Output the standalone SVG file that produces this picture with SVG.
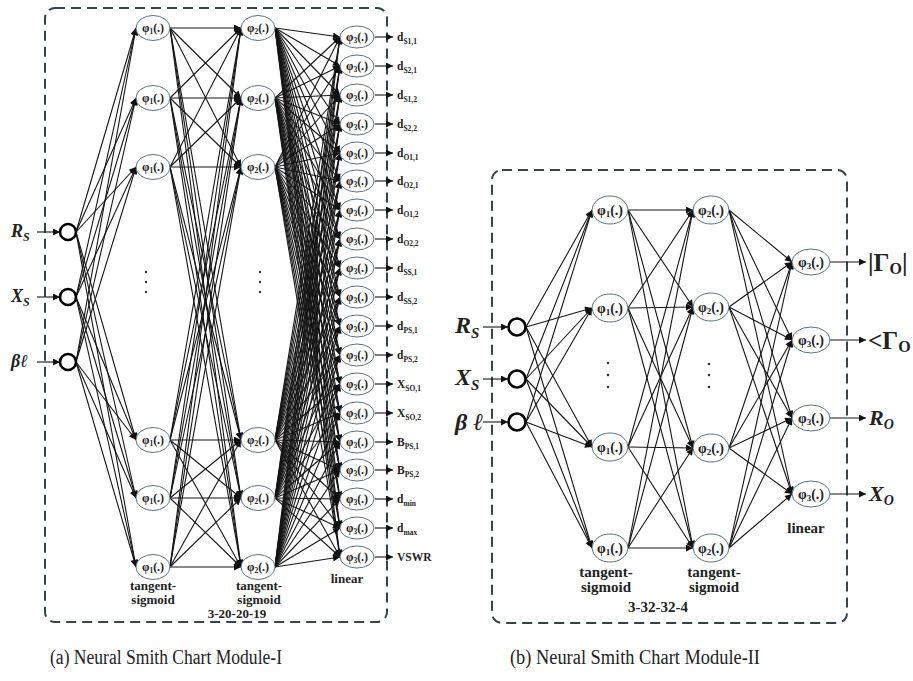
<svg xmlns="http://www.w3.org/2000/svg" width="913" height="681" viewBox="0 0 913 681">
<defs>
<marker id="ah" viewBox="0 0 10 10" refX="10" refY="5" markerWidth="9" markerHeight="7" markerUnits="userSpaceOnUse" orient="auto"><path d="M0,0 L10,5 L0,10 z" fill="#111"/></marker>
<style>
.frame{fill:none;stroke:#34444c;stroke-width:2;stroke-dasharray:10 6}
.conn line{stroke:#151515;stroke-width:1.1;marker-end:url(#ah)}
.nd ellipse{fill:#fff;stroke:#5a7482;stroke-width:1}
.inp{fill:#fff;stroke:#000;stroke-width:2.6}
.t{font-family:'Liberation Serif','Times New Roman',Times,serif;font-weight:bold;fill:#222}
.ph{font-size:12px;text-anchor:middle}
.ph2{font-size:14px;text-anchor:middle}
.sb{font-size:7.5px}
.sb2{font-size:9px}
.ol{font-size:11.5px}
.os{font-size:7.5px}
.lab{font-size:13px;text-anchor:middle}
.lab2{font-size:15px;text-anchor:middle}
.in{font-family:'Liberation Serif','Times New Roman',Times,serif;font-weight:bold;font-style:italic;fill:#222}
.cap{font-family:'Liberation Serif','Times New Roman',Times,serif;font-size:20px;fill:#222}
.dot{fill:#333}
</style>
</defs>
<rect fill="#fff" x="0" y="0" width="913" height="681"/>

<!-- ===== Panel (a) ===== -->
<rect class="frame" x="45" y="8" width="342" height="614" rx="10"/>

<g id="a-connectors" class="conn">
<!-- inputs to phi1 -->
<line x1="76" y1="232" x2="136" y2="28"/><line x1="76" y1="232" x2="136" y2="98"/><line x1="76" y1="232" x2="136" y2="167"/><line x1="76" y1="232" x2="136" y2="440"/><line x1="76" y1="232" x2="136" y2="498"/><line x1="76" y1="232" x2="136" y2="567"/>
<line x1="76" y1="297" x2="136" y2="28"/><line x1="76" y1="297" x2="136" y2="98"/><line x1="76" y1="297" x2="136" y2="167"/><line x1="76" y1="297" x2="136" y2="440"/><line x1="76" y1="297" x2="136" y2="498"/><line x1="76" y1="297" x2="136" y2="567"/>
<line x1="76" y1="362" x2="136" y2="28"/><line x1="76" y1="362" x2="136" y2="98"/><line x1="76" y1="362" x2="136" y2="167"/><line x1="76" y1="362" x2="136" y2="440"/><line x1="76" y1="362" x2="136" y2="498"/><line x1="76" y1="362" x2="136" y2="567"/>
<!-- phi1 to phi2 -->
<line x1="170" y1="28" x2="241" y2="28"/><line x1="170" y1="28" x2="241" y2="98"/><line x1="170" y1="28" x2="241" y2="167"/><line x1="170" y1="28" x2="241" y2="440"/><line x1="170" y1="28" x2="241" y2="498"/><line x1="170" y1="28" x2="241" y2="567"/>
<line x1="170" y1="98" x2="241" y2="28"/><line x1="170" y1="98" x2="241" y2="98"/><line x1="170" y1="98" x2="241" y2="167"/><line x1="170" y1="98" x2="241" y2="440"/><line x1="170" y1="98" x2="241" y2="498"/><line x1="170" y1="98" x2="241" y2="567"/>
<line x1="170" y1="167" x2="241" y2="28"/><line x1="170" y1="167" x2="241" y2="98"/><line x1="170" y1="167" x2="241" y2="167"/><line x1="170" y1="167" x2="241" y2="440"/><line x1="170" y1="167" x2="241" y2="498"/><line x1="170" y1="167" x2="241" y2="567"/>
<line x1="170" y1="440" x2="241" y2="28"/><line x1="170" y1="440" x2="241" y2="98"/><line x1="170" y1="440" x2="241" y2="167"/><line x1="170" y1="440" x2="241" y2="440"/><line x1="170" y1="440" x2="241" y2="498"/><line x1="170" y1="440" x2="241" y2="567"/>
<line x1="170" y1="498" x2="241" y2="28"/><line x1="170" y1="498" x2="241" y2="98"/><line x1="170" y1="498" x2="241" y2="167"/><line x1="170" y1="498" x2="241" y2="440"/><line x1="170" y1="498" x2="241" y2="498"/><line x1="170" y1="498" x2="241" y2="567"/>
<line x1="170" y1="567" x2="241" y2="28"/><line x1="170" y1="567" x2="241" y2="98"/><line x1="170" y1="567" x2="241" y2="167"/><line x1="170" y1="567" x2="241" y2="440"/><line x1="170" y1="567" x2="241" y2="498"/><line x1="170" y1="567" x2="241" y2="567"/>
<!-- phi2 to phi3 -->
<line x1="275" y1="28" x2="340" y2="37"/><line x1="275" y1="28" x2="340" y2="66"/><line x1="275" y1="28" x2="340" y2="95"/><line x1="275" y1="28" x2="340" y2="124"/><line x1="275" y1="28" x2="340" y2="153"/><line x1="275" y1="28" x2="340" y2="181"/><line x1="275" y1="28" x2="340" y2="210"/><line x1="275" y1="28" x2="340" y2="239"/><line x1="275" y1="28" x2="340" y2="268"/><line x1="275" y1="28" x2="340" y2="297"/><line x1="275" y1="28" x2="340" y2="326"/><line x1="275" y1="28" x2="340" y2="355"/><line x1="275" y1="28" x2="340" y2="384"/><line x1="275" y1="28" x2="340" y2="413"/><line x1="275" y1="28" x2="340" y2="442"/><line x1="275" y1="28" x2="340" y2="470"/><line x1="275" y1="28" x2="340" y2="499"/><line x1="275" y1="28" x2="340" y2="528"/><line x1="275" y1="28" x2="340" y2="557"/>
<line x1="275" y1="98" x2="340" y2="37"/><line x1="275" y1="98" x2="340" y2="66"/><line x1="275" y1="98" x2="340" y2="95"/><line x1="275" y1="98" x2="340" y2="124"/><line x1="275" y1="98" x2="340" y2="153"/><line x1="275" y1="98" x2="340" y2="181"/><line x1="275" y1="98" x2="340" y2="210"/><line x1="275" y1="98" x2="340" y2="239"/><line x1="275" y1="98" x2="340" y2="268"/><line x1="275" y1="98" x2="340" y2="297"/><line x1="275" y1="98" x2="340" y2="326"/><line x1="275" y1="98" x2="340" y2="355"/><line x1="275" y1="98" x2="340" y2="384"/><line x1="275" y1="98" x2="340" y2="413"/><line x1="275" y1="98" x2="340" y2="442"/><line x1="275" y1="98" x2="340" y2="470"/><line x1="275" y1="98" x2="340" y2="499"/><line x1="275" y1="98" x2="340" y2="528"/><line x1="275" y1="98" x2="340" y2="557"/>
<line x1="275" y1="167" x2="340" y2="37"/><line x1="275" y1="167" x2="340" y2="66"/><line x1="275" y1="167" x2="340" y2="95"/><line x1="275" y1="167" x2="340" y2="124"/><line x1="275" y1="167" x2="340" y2="153"/><line x1="275" y1="167" x2="340" y2="181"/><line x1="275" y1="167" x2="340" y2="210"/><line x1="275" y1="167" x2="340" y2="239"/><line x1="275" y1="167" x2="340" y2="268"/><line x1="275" y1="167" x2="340" y2="297"/><line x1="275" y1="167" x2="340" y2="326"/><line x1="275" y1="167" x2="340" y2="355"/><line x1="275" y1="167" x2="340" y2="384"/><line x1="275" y1="167" x2="340" y2="413"/><line x1="275" y1="167" x2="340" y2="442"/><line x1="275" y1="167" x2="340" y2="470"/><line x1="275" y1="167" x2="340" y2="499"/><line x1="275" y1="167" x2="340" y2="528"/><line x1="275" y1="167" x2="340" y2="557"/>
<line x1="275" y1="440" x2="340" y2="37"/><line x1="275" y1="440" x2="340" y2="66"/><line x1="275" y1="440" x2="340" y2="95"/><line x1="275" y1="440" x2="340" y2="124"/><line x1="275" y1="440" x2="340" y2="153"/><line x1="275" y1="440" x2="340" y2="181"/><line x1="275" y1="440" x2="340" y2="210"/><line x1="275" y1="440" x2="340" y2="239"/><line x1="275" y1="440" x2="340" y2="268"/><line x1="275" y1="440" x2="340" y2="297"/><line x1="275" y1="440" x2="340" y2="326"/><line x1="275" y1="440" x2="340" y2="355"/><line x1="275" y1="440" x2="340" y2="384"/><line x1="275" y1="440" x2="340" y2="413"/><line x1="275" y1="440" x2="340" y2="442"/><line x1="275" y1="440" x2="340" y2="470"/><line x1="275" y1="440" x2="340" y2="499"/><line x1="275" y1="440" x2="340" y2="528"/><line x1="275" y1="440" x2="340" y2="557"/>
<line x1="275" y1="498" x2="340" y2="37"/><line x1="275" y1="498" x2="340" y2="66"/><line x1="275" y1="498" x2="340" y2="95"/><line x1="275" y1="498" x2="340" y2="124"/><line x1="275" y1="498" x2="340" y2="153"/><line x1="275" y1="498" x2="340" y2="181"/><line x1="275" y1="498" x2="340" y2="210"/><line x1="275" y1="498" x2="340" y2="239"/><line x1="275" y1="498" x2="340" y2="268"/><line x1="275" y1="498" x2="340" y2="297"/><line x1="275" y1="498" x2="340" y2="326"/><line x1="275" y1="498" x2="340" y2="355"/><line x1="275" y1="498" x2="340" y2="384"/><line x1="275" y1="498" x2="340" y2="413"/><line x1="275" y1="498" x2="340" y2="442"/><line x1="275" y1="498" x2="340" y2="470"/><line x1="275" y1="498" x2="340" y2="499"/><line x1="275" y1="498" x2="340" y2="528"/><line x1="275" y1="498" x2="340" y2="557"/>
<line x1="275" y1="567" x2="340" y2="37"/><line x1="275" y1="567" x2="340" y2="66"/><line x1="275" y1="567" x2="340" y2="95"/><line x1="275" y1="567" x2="340" y2="124"/><line x1="275" y1="567" x2="340" y2="153"/><line x1="275" y1="567" x2="340" y2="181"/><line x1="275" y1="567" x2="340" y2="210"/><line x1="275" y1="567" x2="340" y2="239"/><line x1="275" y1="567" x2="340" y2="268"/><line x1="275" y1="567" x2="340" y2="297"/><line x1="275" y1="567" x2="340" y2="326"/><line x1="275" y1="567" x2="340" y2="355"/><line x1="275" y1="567" x2="340" y2="384"/><line x1="275" y1="567" x2="340" y2="413"/><line x1="275" y1="567" x2="340" y2="442"/><line x1="275" y1="567" x2="340" y2="470"/><line x1="275" y1="567" x2="340" y2="499"/><line x1="275" y1="567" x2="340" y2="528"/><line x1="275" y1="567" x2="340" y2="557"/>
<!-- input arrows -->
<line x1="37" y1="232" x2="60" y2="232"/><line x1="37" y1="297" x2="60" y2="297"/><line x1="37" y1="362" x2="60" y2="362"/>
<!-- output arrows -->
<line x1="375" y1="37" x2="393" y2="37"/><line x1="375" y1="66" x2="393" y2="66"/><line x1="375" y1="95" x2="393" y2="95"/><line x1="375" y1="124" x2="393" y2="124"/><line x1="375" y1="153" x2="393" y2="153"/><line x1="375" y1="181" x2="393" y2="181"/><line x1="375" y1="210" x2="393" y2="210"/><line x1="375" y1="239" x2="393" y2="239"/><line x1="375" y1="268" x2="393" y2="268"/><line x1="375" y1="297" x2="393" y2="297"/><line x1="375" y1="326" x2="393" y2="326"/><line x1="375" y1="355" x2="393" y2="355"/><line x1="375" y1="384" x2="393" y2="384"/><line x1="375" y1="413" x2="393" y2="413"/><line x1="375" y1="442" x2="393" y2="442"/><line x1="375" y1="470" x2="393" y2="470"/><line x1="375" y1="499" x2="393" y2="499"/><line x1="375" y1="528" x2="393" y2="528"/><line x1="375" y1="557" x2="393" y2="557"/>
</g>

<!-- inputs (a) -->
<g id="a-in-rs"><circle class="inp" cx="68" cy="232" r="8"/><text class="in" x="11" y="237" font-size="18">R<tspan font-size="12" dy="4">S</tspan></text></g>
<g id="a-in-xs"><circle class="inp" cx="68" cy="297" r="8"/><text class="in" x="11" y="302" font-size="18">X<tspan font-size="12" dy="4">S</tspan></text></g>
<g id="a-in-bl"><circle class="inp" cx="68" cy="362" r="8"/><text class="in" x="11" y="367" font-size="18">βℓ</text></g>

<!-- layer 1 (a) -->
<g id="a-h1-1" class="nd"><ellipse cx="153" cy="28" rx="17" ry="12.5"/><text class="t ph" x="153" y="32">φ<tspan class="sb" dy="2">1</tspan><tspan dy="-2">(.)</tspan></text></g>
<g id="a-h1-2" class="nd"><ellipse cx="153" cy="98" rx="17" ry="12.5"/><text class="t ph" x="153" y="102">φ<tspan class="sb" dy="2">1</tspan><tspan dy="-2">(.)</tspan></text></g>
<g id="a-h1-3" class="nd"><ellipse cx="153" cy="167" rx="17" ry="12.5"/><text class="t ph" x="153" y="171">φ<tspan class="sb" dy="2">1</tspan><tspan dy="-2">(.)</tspan></text></g>
<g id="a-h1-4" class="nd"><ellipse cx="153" cy="440" rx="17" ry="12.5"/><text class="t ph" x="153" y="444">φ<tspan class="sb" dy="2">1</tspan><tspan dy="-2">(.)</tspan></text></g>
<g id="a-h1-5" class="nd"><ellipse cx="153" cy="498" rx="17" ry="12.5"/><text class="t ph" x="153" y="502">φ<tspan class="sb" dy="2">1</tspan><tspan dy="-2">(.)</tspan></text></g>
<g id="a-h1-6" class="nd"><ellipse cx="153" cy="567" rx="17" ry="12.5"/><text class="t ph" x="153" y="571">φ<tspan class="sb" dy="2">1</tspan><tspan dy="-2">(.)</tspan></text></g>
<g id="a-dots1"><circle class="dot" cx="146" cy="272" r="1.2"/><circle class="dot" cx="146" cy="282" r="1.2"/><circle class="dot" cx="146" cy="292" r="1.2"/></g>

<!-- layer 2 (a) -->
<g id="a-h2-1" class="nd"><ellipse cx="258" cy="28" rx="17" ry="12.5"/><text class="t ph" x="258" y="32">φ<tspan class="sb" dy="2">2</tspan><tspan dy="-2">(.)</tspan></text></g>
<g id="a-h2-2" class="nd"><ellipse cx="258" cy="98" rx="17" ry="12.5"/><text class="t ph" x="258" y="102">φ<tspan class="sb" dy="2">2</tspan><tspan dy="-2">(.)</tspan></text></g>
<g id="a-h2-3" class="nd"><ellipse cx="258" cy="167" rx="17" ry="12.5"/><text class="t ph" x="258" y="171">φ<tspan class="sb" dy="2">2</tspan><tspan dy="-2">(.)</tspan></text></g>
<g id="a-h2-4" class="nd"><ellipse cx="258" cy="440" rx="17" ry="12.5"/><text class="t ph" x="258" y="444">φ<tspan class="sb" dy="2">2</tspan><tspan dy="-2">(.)</tspan></text></g>
<g id="a-h2-5" class="nd"><ellipse cx="258" cy="498" rx="17" ry="12.5"/><text class="t ph" x="258" y="502">φ<tspan class="sb" dy="2">2</tspan><tspan dy="-2">(.)</tspan></text></g>
<g id="a-h2-6" class="nd"><ellipse cx="258" cy="567" rx="17" ry="12.5"/><text class="t ph" x="258" y="571">φ<tspan class="sb" dy="2">2</tspan><tspan dy="-2">(.)</tspan></text></g>
<g id="a-dots2"><circle class="dot" cx="260" cy="272" r="1.2"/><circle class="dot" cx="260" cy="282" r="1.2"/><circle class="dot" cx="260" cy="292" r="1.2"/></g>

<!-- layer 3 (a) -->
<g id="a-o1" class="nd"><ellipse cx="357" cy="37" rx="17" ry="11"/><text class="t ph" x="357" y="41">φ<tspan class="sb" dy="2">3</tspan><tspan dy="-2">(.)</tspan></text><text class="t ol" x="397" y="41">d<tspan class="os" dy="3">S1,1</tspan></text></g>
<g id="a-o2" class="nd"><ellipse cx="357" cy="66" rx="17" ry="11"/><text class="t ph" x="357" y="70">φ<tspan class="sb" dy="2">3</tspan><tspan dy="-2">(.)</tspan></text><text class="t ol" x="397" y="70">d<tspan class="os" dy="3">S2,1</tspan></text></g>
<g id="a-o3" class="nd"><ellipse cx="357" cy="95" rx="17" ry="11"/><text class="t ph" x="357" y="99">φ<tspan class="sb" dy="2">3</tspan><tspan dy="-2">(.)</tspan></text><text class="t ol" x="397" y="99">d<tspan class="os" dy="3">S1,2</tspan></text></g>
<g id="a-o4" class="nd"><ellipse cx="357" cy="124" rx="17" ry="11"/><text class="t ph" x="357" y="128">φ<tspan class="sb" dy="2">3</tspan><tspan dy="-2">(.)</tspan></text><text class="t ol" x="397" y="128">d<tspan class="os" dy="3">S2,2</tspan></text></g>
<g id="a-o5" class="nd"><ellipse cx="357" cy="153" rx="17" ry="11"/><text class="t ph" x="357" y="157">φ<tspan class="sb" dy="2">3</tspan><tspan dy="-2">(.)</tspan></text><text class="t ol" x="397" y="157">d<tspan class="os" dy="3">O1,1</tspan></text></g>
<g id="a-o6" class="nd"><ellipse cx="357" cy="181" rx="17" ry="11"/><text class="t ph" x="357" y="185">φ<tspan class="sb" dy="2">3</tspan><tspan dy="-2">(.)</tspan></text><text class="t ol" x="397" y="185">d<tspan class="os" dy="3">O2,1</tspan></text></g>
<g id="a-o7" class="nd"><ellipse cx="357" cy="210" rx="17" ry="11"/><text class="t ph" x="357" y="214">φ<tspan class="sb" dy="2">3</tspan><tspan dy="-2">(.)</tspan></text><text class="t ol" x="397" y="214">d<tspan class="os" dy="3">O1,2</tspan></text></g>
<g id="a-o8" class="nd"><ellipse cx="357" cy="239" rx="17" ry="11"/><text class="t ph" x="357" y="243">φ<tspan class="sb" dy="2">3</tspan><tspan dy="-2">(.)</tspan></text><text class="t ol" x="397" y="243">d<tspan class="os" dy="3">O2,2</tspan></text></g>
<g id="a-o9" class="nd"><ellipse cx="357" cy="268" rx="17" ry="11"/><text class="t ph" x="357" y="272">φ<tspan class="sb" dy="2">3</tspan><tspan dy="-2">(.)</tspan></text><text class="t ol" x="397" y="272">d<tspan class="os" dy="3">SS,1</tspan></text></g>
<g id="a-o10" class="nd"><ellipse cx="357" cy="297" rx="17" ry="11"/><text class="t ph" x="357" y="301">φ<tspan class="sb" dy="2">3</tspan><tspan dy="-2">(.)</tspan></text><text class="t ol" x="397" y="301">d<tspan class="os" dy="3">SS,2</tspan></text></g>
<g id="a-o11" class="nd"><ellipse cx="357" cy="326" rx="17" ry="11"/><text class="t ph" x="357" y="330">φ<tspan class="sb" dy="2">3</tspan><tspan dy="-2">(.)</tspan></text><text class="t ol" x="397" y="330">d<tspan class="os" dy="3">PS,1</tspan></text></g>
<g id="a-o12" class="nd"><ellipse cx="357" cy="355" rx="17" ry="11"/><text class="t ph" x="357" y="359">φ<tspan class="sb" dy="2">3</tspan><tspan dy="-2">(.)</tspan></text><text class="t ol" x="397" y="359">d<tspan class="os" dy="3">PS,2</tspan></text></g>
<g id="a-o13" class="nd"><ellipse cx="357" cy="384" rx="17" ry="11"/><text class="t ph" x="357" y="388">φ<tspan class="sb" dy="2">3</tspan><tspan dy="-2">(.)</tspan></text><text class="t ol" x="397" y="388">X<tspan class="os" dy="3">SO,1</tspan></text></g>
<g id="a-o14" class="nd"><ellipse cx="357" cy="413" rx="17" ry="11"/><text class="t ph" x="357" y="417">φ<tspan class="sb" dy="2">3</tspan><tspan dy="-2">(.)</tspan></text><text class="t ol" x="397" y="417">X<tspan class="os" dy="3">SO,2</tspan></text></g>
<g id="a-o15" class="nd"><ellipse cx="357" cy="442" rx="17" ry="11"/><text class="t ph" x="357" y="446">φ<tspan class="sb" dy="2">3</tspan><tspan dy="-2">(.)</tspan></text><text class="t ol" x="397" y="446">B<tspan class="os" dy="3">PS,1</tspan></text></g>
<g id="a-o16" class="nd"><ellipse cx="357" cy="470" rx="17" ry="11"/><text class="t ph" x="357" y="474">φ<tspan class="sb" dy="2">3</tspan><tspan dy="-2">(.)</tspan></text><text class="t ol" x="397" y="474">B<tspan class="os" dy="3">PS,2</tspan></text></g>
<g id="a-o17" class="nd"><ellipse cx="357" cy="499" rx="17" ry="11"/><text class="t ph" x="357" y="503">φ<tspan class="sb" dy="2">3</tspan><tspan dy="-2">(.)</tspan></text><text class="t ol" x="397" y="503">d<tspan class="os" dy="3">min</tspan></text></g>
<g id="a-o18" class="nd"><ellipse cx="357" cy="528" rx="17" ry="11"/><text class="t ph" x="357" y="532">φ<tspan class="sb" dy="2">3</tspan><tspan dy="-2">(.)</tspan></text><text class="t ol" x="397" y="532">d<tspan class="os" dy="3">max</tspan></text></g>
<g id="a-o19" class="nd"><ellipse cx="357" cy="557" rx="17" ry="11"/><text class="t ph" x="357" y="561">φ<tspan class="sb" dy="2">3</tspan><tspan dy="-2">(.)</tspan></text><text class="t ol" x="397" y="561">VSWR</text></g>

<g id="a-labels">
<text class="t lab" x="153" y="590">tangent-</text><text class="t lab" x="153" y="604">sigmoid</text>
<text class="t lab" x="259" y="590">tangent-</text><text class="t lab" x="259" y="604">sigmoid</text>
<text class="t lab" x="347" y="583">linear</text>
<text class="t lab" x="237" y="618">3-20-20-19</text>
</g>

<!-- ===== Panel (b) ===== -->
<rect class="frame" x="492" y="170" width="355" height="453" rx="10"/>

<g id="b-connectors" class="conn">
<line x1="526" y1="327" x2="592" y2="210"/><line x1="526" y1="327" x2="592" y2="308"/><line x1="526" y1="327" x2="592" y2="447"/><line x1="526" y1="327" x2="592" y2="548"/>
<line x1="526" y1="379" x2="592" y2="210"/><line x1="526" y1="379" x2="592" y2="308"/><line x1="526" y1="379" x2="592" y2="447"/><line x1="526" y1="379" x2="592" y2="548"/>
<line x1="526" y1="422" x2="592" y2="210"/><line x1="526" y1="422" x2="592" y2="308"/><line x1="526" y1="422" x2="592" y2="447"/><line x1="526" y1="422" x2="592" y2="548"/>
<line x1="628" y1="210" x2="693" y2="210"/><line x1="628" y1="210" x2="693" y2="307"/><line x1="628" y1="210" x2="693" y2="448"/><line x1="628" y1="210" x2="693" y2="548"/>
<line x1="628" y1="308" x2="693" y2="210"/><line x1="628" y1="308" x2="693" y2="307"/><line x1="628" y1="308" x2="693" y2="448"/><line x1="628" y1="308" x2="693" y2="548"/>
<line x1="628" y1="447" x2="693" y2="210"/><line x1="628" y1="447" x2="693" y2="307"/><line x1="628" y1="447" x2="693" y2="448"/><line x1="628" y1="447" x2="693" y2="548"/>
<line x1="628" y1="548" x2="693" y2="210"/><line x1="628" y1="548" x2="693" y2="307"/><line x1="628" y1="548" x2="693" y2="448"/><line x1="628" y1="548" x2="693" y2="548"/>
<line x1="729" y1="210" x2="792" y2="262"/><line x1="729" y1="210" x2="792" y2="340"/><line x1="729" y1="210" x2="792" y2="418"/><line x1="729" y1="210" x2="792" y2="494"/>
<line x1="729" y1="307" x2="792" y2="262"/><line x1="729" y1="307" x2="792" y2="340"/><line x1="729" y1="307" x2="792" y2="418"/><line x1="729" y1="307" x2="792" y2="494"/>
<line x1="729" y1="448" x2="792" y2="262"/><line x1="729" y1="448" x2="792" y2="340"/><line x1="729" y1="448" x2="792" y2="418"/><line x1="729" y1="448" x2="792" y2="494"/>
<line x1="729" y1="548" x2="792" y2="262"/><line x1="729" y1="548" x2="792" y2="340"/><line x1="729" y1="548" x2="792" y2="418"/><line x1="729" y1="548" x2="792" y2="494"/>
<line x1="483" y1="327" x2="508" y2="327"/><line x1="483" y1="379" x2="508" y2="379"/><line x1="483" y1="422" x2="508" y2="422"/>
<line x1="830" y1="262" x2="866" y2="262"/><line x1="830" y1="340" x2="866" y2="340"/><line x1="830" y1="418" x2="866" y2="418"/><line x1="830" y1="494" x2="866" y2="494"/>
</g>

<g id="b-in-rs"><circle class="inp" cx="517" cy="327" r="8.5"/><text class="in" x="455" y="333" font-size="24">R<tspan font-size="15" dy="5">S</tspan></text></g>
<g id="b-in-xs"><circle class="inp" cx="517" cy="379" r="8.5"/><text class="in" x="455" y="385" font-size="24">X<tspan font-size="15" dy="5">S</tspan></text></g>
<g id="b-in-bl"><circle class="inp" cx="517" cy="422" r="8.5"/><text class="in" x="455" y="430" font-size="24">β ℓ</text></g>

<g id="b-h1-1" class="nd"><ellipse cx="610" cy="210" rx="18" ry="14"/><text class="t ph2" x="610" y="215">φ<tspan class="sb2" dy="2">1</tspan><tspan dy="-2">(.)</tspan></text></g>
<g id="b-h1-2" class="nd"><ellipse cx="610" cy="308" rx="18" ry="14"/><text class="t ph2" x="610" y="313">φ<tspan class="sb2" dy="2">1</tspan><tspan dy="-2">(.)</tspan></text></g>
<g id="b-h1-3" class="nd"><ellipse cx="610" cy="447" rx="18" ry="14"/><text class="t ph2" x="610" y="452">φ<tspan class="sb2" dy="2">1</tspan><tspan dy="-2">(.)</tspan></text></g>
<g id="b-h1-4" class="nd"><ellipse cx="610" cy="548" rx="18" ry="14"/><text class="t ph2" x="610" y="553">φ<tspan class="sb2" dy="2">1</tspan><tspan dy="-2">(.)</tspan></text></g>
<g id="b-dots1"><circle class="dot" cx="608" cy="363" r="1.3"/><circle class="dot" cx="608" cy="375" r="1.3"/><circle class="dot" cx="608" cy="387" r="1.3"/></g>

<g id="b-h2-1" class="nd"><ellipse cx="711" cy="210" rx="18" ry="14"/><text class="t ph2" x="711" y="215">φ<tspan class="sb2" dy="2">2</tspan><tspan dy="-2">(.)</tspan></text></g>
<g id="b-h2-2" class="nd"><ellipse cx="711" cy="307" rx="18" ry="14"/><text class="t ph2" x="711" y="312">φ<tspan class="sb2" dy="2">2</tspan><tspan dy="-2">(.)</tspan></text></g>
<g id="b-h2-3" class="nd"><ellipse cx="711" cy="448" rx="18" ry="14"/><text class="t ph2" x="711" y="453">φ<tspan class="sb2" dy="2">2</tspan><tspan dy="-2">(.)</tspan></text></g>
<g id="b-h2-4" class="nd"><ellipse cx="711" cy="548" rx="18" ry="14"/><text class="t ph2" x="711" y="553">φ<tspan class="sb2" dy="2">2</tspan><tspan dy="-2">(.)</tspan></text></g>
<g id="b-dots2"><circle class="dot" cx="709" cy="364" r="1.3"/><circle class="dot" cx="709" cy="375" r="1.3"/><circle class="dot" cx="709" cy="387" r="1.3"/></g>

<g id="b-o1" class="nd"><ellipse cx="811" cy="262" rx="19" ry="13"/><text class="t ph2" x="811" y="267">φ<tspan class="sb2" dy="2">3</tspan><tspan dy="-2">(.)</tspan></text><text class="t" x="868" y="271" font-size="25">|Γ<tspan font-size="16" dy="3">O</tspan><tspan dy="-3">|</tspan></text></g>
<g id="b-o2" class="nd"><ellipse cx="811" cy="340" rx="19" ry="13"/><text class="t ph2" x="811" y="345">φ<tspan class="sb2" dy="2">3</tspan><tspan dy="-2">(.)</tspan></text><text class="t" x="868" y="349" font-size="25">&lt;Γ<tspan font-size="16" dy="3">O</tspan></text></g>
<g id="b-o3" class="nd"><ellipse cx="811" cy="418" rx="19" ry="13"/><text class="t ph2" x="811" y="423">φ<tspan class="sb2" dy="2">3</tspan><tspan dy="-2">(.)</tspan></text><text class="in" x="869" y="425" font-size="22">R<tspan font-size="14" dy="4">O</tspan></text></g>
<g id="b-o4" class="nd"><ellipse cx="811" cy="494" rx="19" ry="13"/><text class="t ph2" x="811" y="499">φ<tspan class="sb2" dy="2">3</tspan><tspan dy="-2">(.)</tspan></text><text class="in" x="869" y="501" font-size="22">X<tspan font-size="14" dy="4">O</tspan></text></g>

<g id="b-labels">
<text class="t lab2" x="606" y="577">tangent-</text><text class="t lab2" x="606" y="592">sigmoid</text>
<text class="t lab2" x="714" y="577">tangent-</text><text class="t lab2" x="714" y="592">sigmoid</text>
<text class="t lab2" x="806" y="533">linear</text>
<text class="t lab2" x="658" y="612">3-32-32-4</text>
</g>

<g id="captions">
<text class="cap" x="50" y="664" textLength="232" lengthAdjust="spacingAndGlyphs">(a) Neural Smith Chart Module-I</text>
<text class="cap" x="510" y="664" textLength="250" lengthAdjust="spacingAndGlyphs">(b) Neural Smith Chart Module-II</text>
</g>
</svg>
